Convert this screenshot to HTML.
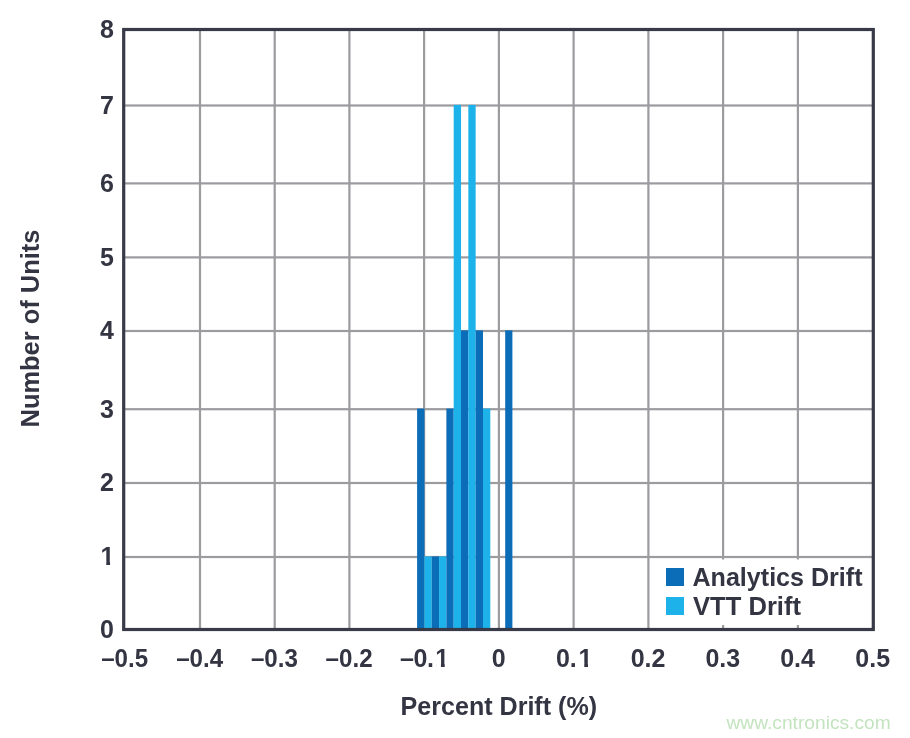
<!DOCTYPE html>
<html><head><meta charset="utf-8"><title>Percent Drift</title>
<style>
html,body{margin:0;padding:0;background:#fff;}
svg{display:block}
text{font-family:"Liberation Sans",sans-serif;}
.b{font-weight:bold;font-size:24px;fill:#343543}
</style></head><body>
<svg width="910" height="738" viewBox="0 0 910 738">
<rect width="910" height="738" fill="#fff"/>

<rect x="198.90" y="30" width="2.2" height="599" fill="#9b9ba0"/>
<rect x="273.60" y="30" width="2.2" height="599" fill="#9b9ba0"/>
<rect x="348.30" y="30" width="2.2" height="599" fill="#9b9ba0"/>
<rect x="423.00" y="30" width="2.2" height="599" fill="#9b9ba0"/>
<rect x="497.80" y="30" width="2.2" height="599" fill="#9b9ba0"/>
<rect x="572.50" y="30" width="2.2" height="599" fill="#9b9ba0"/>
<rect x="647.30" y="30" width="2.2" height="599" fill="#9b9ba0"/>
<rect x="722.00" y="30" width="2.2" height="599" fill="#9b9ba0"/>
<rect x="796.80" y="30" width="2.2" height="599" fill="#9b9ba0"/>
<rect x="124" y="104.40" width="748" height="2.2" fill="#9b9ba0"/>
<rect x="124" y="182.30" width="748" height="2.2" fill="#9b9ba0"/>
<rect x="124" y="256.30" width="748" height="2.2" fill="#9b9ba0"/>
<rect x="124" y="329.90" width="748" height="2.2" fill="#9b9ba0"/>
<rect x="124" y="408.10" width="748" height="2.2" fill="#9b9ba0"/>
<rect x="124" y="481.90" width="748" height="2.2" fill="#9b9ba0"/>
<rect x="124" y="555.90" width="748" height="2.2" fill="#9b9ba0"/>
<rect x="655" y="559.5" width="216" height="65.5" fill="#fff"/>
<rect x="417.10" y="408.60" width="7.32" height="220.40" fill="#0b6cb8"/>
<rect x="424.42" y="556.40" width="7.32" height="72.60" fill="#1db3ea"/>
<rect x="431.74" y="556.40" width="7.32" height="72.60" fill="#0b6cb8"/>
<rect x="439.06" y="556.40" width="7.32" height="72.60" fill="#1db3ea"/>
<rect x="446.38" y="408.60" width="7.32" height="220.40" fill="#0b6cb8"/>
<rect x="453.70" y="104.90" width="7.32" height="524.10" fill="#1db3ea"/>
<rect x="461.02" y="330.40" width="7.32" height="298.60" fill="#0b6cb8"/>
<rect x="468.34" y="104.90" width="7.32" height="524.10" fill="#1db3ea"/>
<rect x="475.66" y="330.40" width="7.32" height="298.60" fill="#0b6cb8"/>
<rect x="482.98" y="408.60" width="7.32" height="220.40" fill="#1db3ea"/>
<rect x="505.20" y="330.40" width="7.20" height="298.60" fill="#0b6cb8"/>
<rect x="123.7" y="29.5" width="749.6" height="600" fill="none" stroke="#383a47" stroke-width="3.2"/>
<text class="b" style="font-size:25px" x="113.8" y="37.9" text-anchor="end">8</text>
<text class="b" style="font-size:25px" x="113.8" y="637.9" text-anchor="end">0</text>
<text class="b" style="font-size:25px" x="113.8" y="113.9" text-anchor="end">7</text>
<text class="b" style="font-size:25px" x="113.8" y="191.8" text-anchor="end">6</text>
<text class="b" style="font-size:25px" x="113.8" y="265.8" text-anchor="end">5</text>
<text class="b" style="font-size:25px" x="113.8" y="339.4" text-anchor="end">4</text>
<text class="b" style="font-size:25px" x="113.8" y="417.6" text-anchor="end">3</text>
<text class="b" style="font-size:25px" x="113.8" y="491.4" text-anchor="end">2</text>
<clipPath id="c1y"><polygon points="90.00,543.00 110.06,543.00 110.06,569.40 106.27,569.40 106.27,561.85 101.66,561.85 101.66,569.40 90.00,569.40"/></clipPath>
<text class="b" style="font-size:25px" x="100.59" y="565.4" clip-path="url(#c1y)">1</text>
<text class="b" style="font-size:25px" x="124.7" y="667" text-anchor="middle" textLength="47.0" lengthAdjust="spacingAndGlyphs">–0.5</text>
<text class="b" style="font-size:25px" x="199.7" y="667" text-anchor="middle" textLength="47.0" lengthAdjust="spacingAndGlyphs">–0.4</text>
<text class="b" style="font-size:25px" x="274.4" y="667" text-anchor="middle" textLength="47.0" lengthAdjust="spacingAndGlyphs">–0.3</text>
<text class="b" style="font-size:25px" x="349.1" y="667" text-anchor="middle" textLength="47.0" lengthAdjust="spacingAndGlyphs">–0.2</text>
<clipPath id="c1a"><polygon points="390.00,640.00 444.73,640.00 444.73,671.00 440.94,671.00 440.94,663.45 436.33,663.45 436.33,671.00 390.00,671.00"/></clipPath>
<text class="b" style="font-size:25px" x="400.1 413.5 427.0 435.26" y="667" clip-path="url(#c1a)">–0.1</text>
<text class="b" style="font-size:25px" x="498.6" y="667" text-anchor="middle">0</text>
<clipPath id="c1b"><polygon points="550.00,640.00 588.03,640.00 588.03,671.00 584.24,671.00 584.24,663.45 579.63,663.45 579.63,671.00 550.00,671.00"/></clipPath>
<text class="b" style="font-size:25px" x="555.92 569.81 578.56" y="667" clip-path="url(#c1b)">0.1</text>
<text class="b" style="font-size:25px" x="648.1" y="667" text-anchor="middle">0.2</text>
<text class="b" style="font-size:25px" x="722.8" y="667" text-anchor="middle">0.3</text>
<text class="b" style="font-size:25px" x="797.6" y="667" text-anchor="middle">0.4</text>
<text class="b" style="font-size:25px" x="872.7" y="667" text-anchor="middle">0.5</text>
<text class="b" style="font-size:26px" x="498.8" y="714.5" text-anchor="middle" textLength="196.5" lengthAdjust="spacingAndGlyphs">Percent Drift (%)</text>
<text class="b" style="font-size:26px" transform="translate(38.8 328.5) rotate(-90)" text-anchor="middle" textLength="198" lengthAdjust="spacingAndGlyphs">Number of Units</text>
<rect x="666" y="568" width="18" height="18" fill="#0b6cb8"/>
<rect x="666" y="597" width="18" height="18" fill="#1db3ea"/>
<text class="b" style="font-size:25.5px" x="692.5" y="585.5" textLength="170" lengthAdjust="spacingAndGlyphs">Analytics Drift</text>
<text class="b" style="font-size:25.5px" x="693" y="614.6" textLength="108" lengthAdjust="spacingAndGlyphs">VTT Drift</text>
<text x="726.5" y="728.5" font-size="19.2" fill="#c3e4bf">www.cntronics.com</text>
</svg></body></html>
